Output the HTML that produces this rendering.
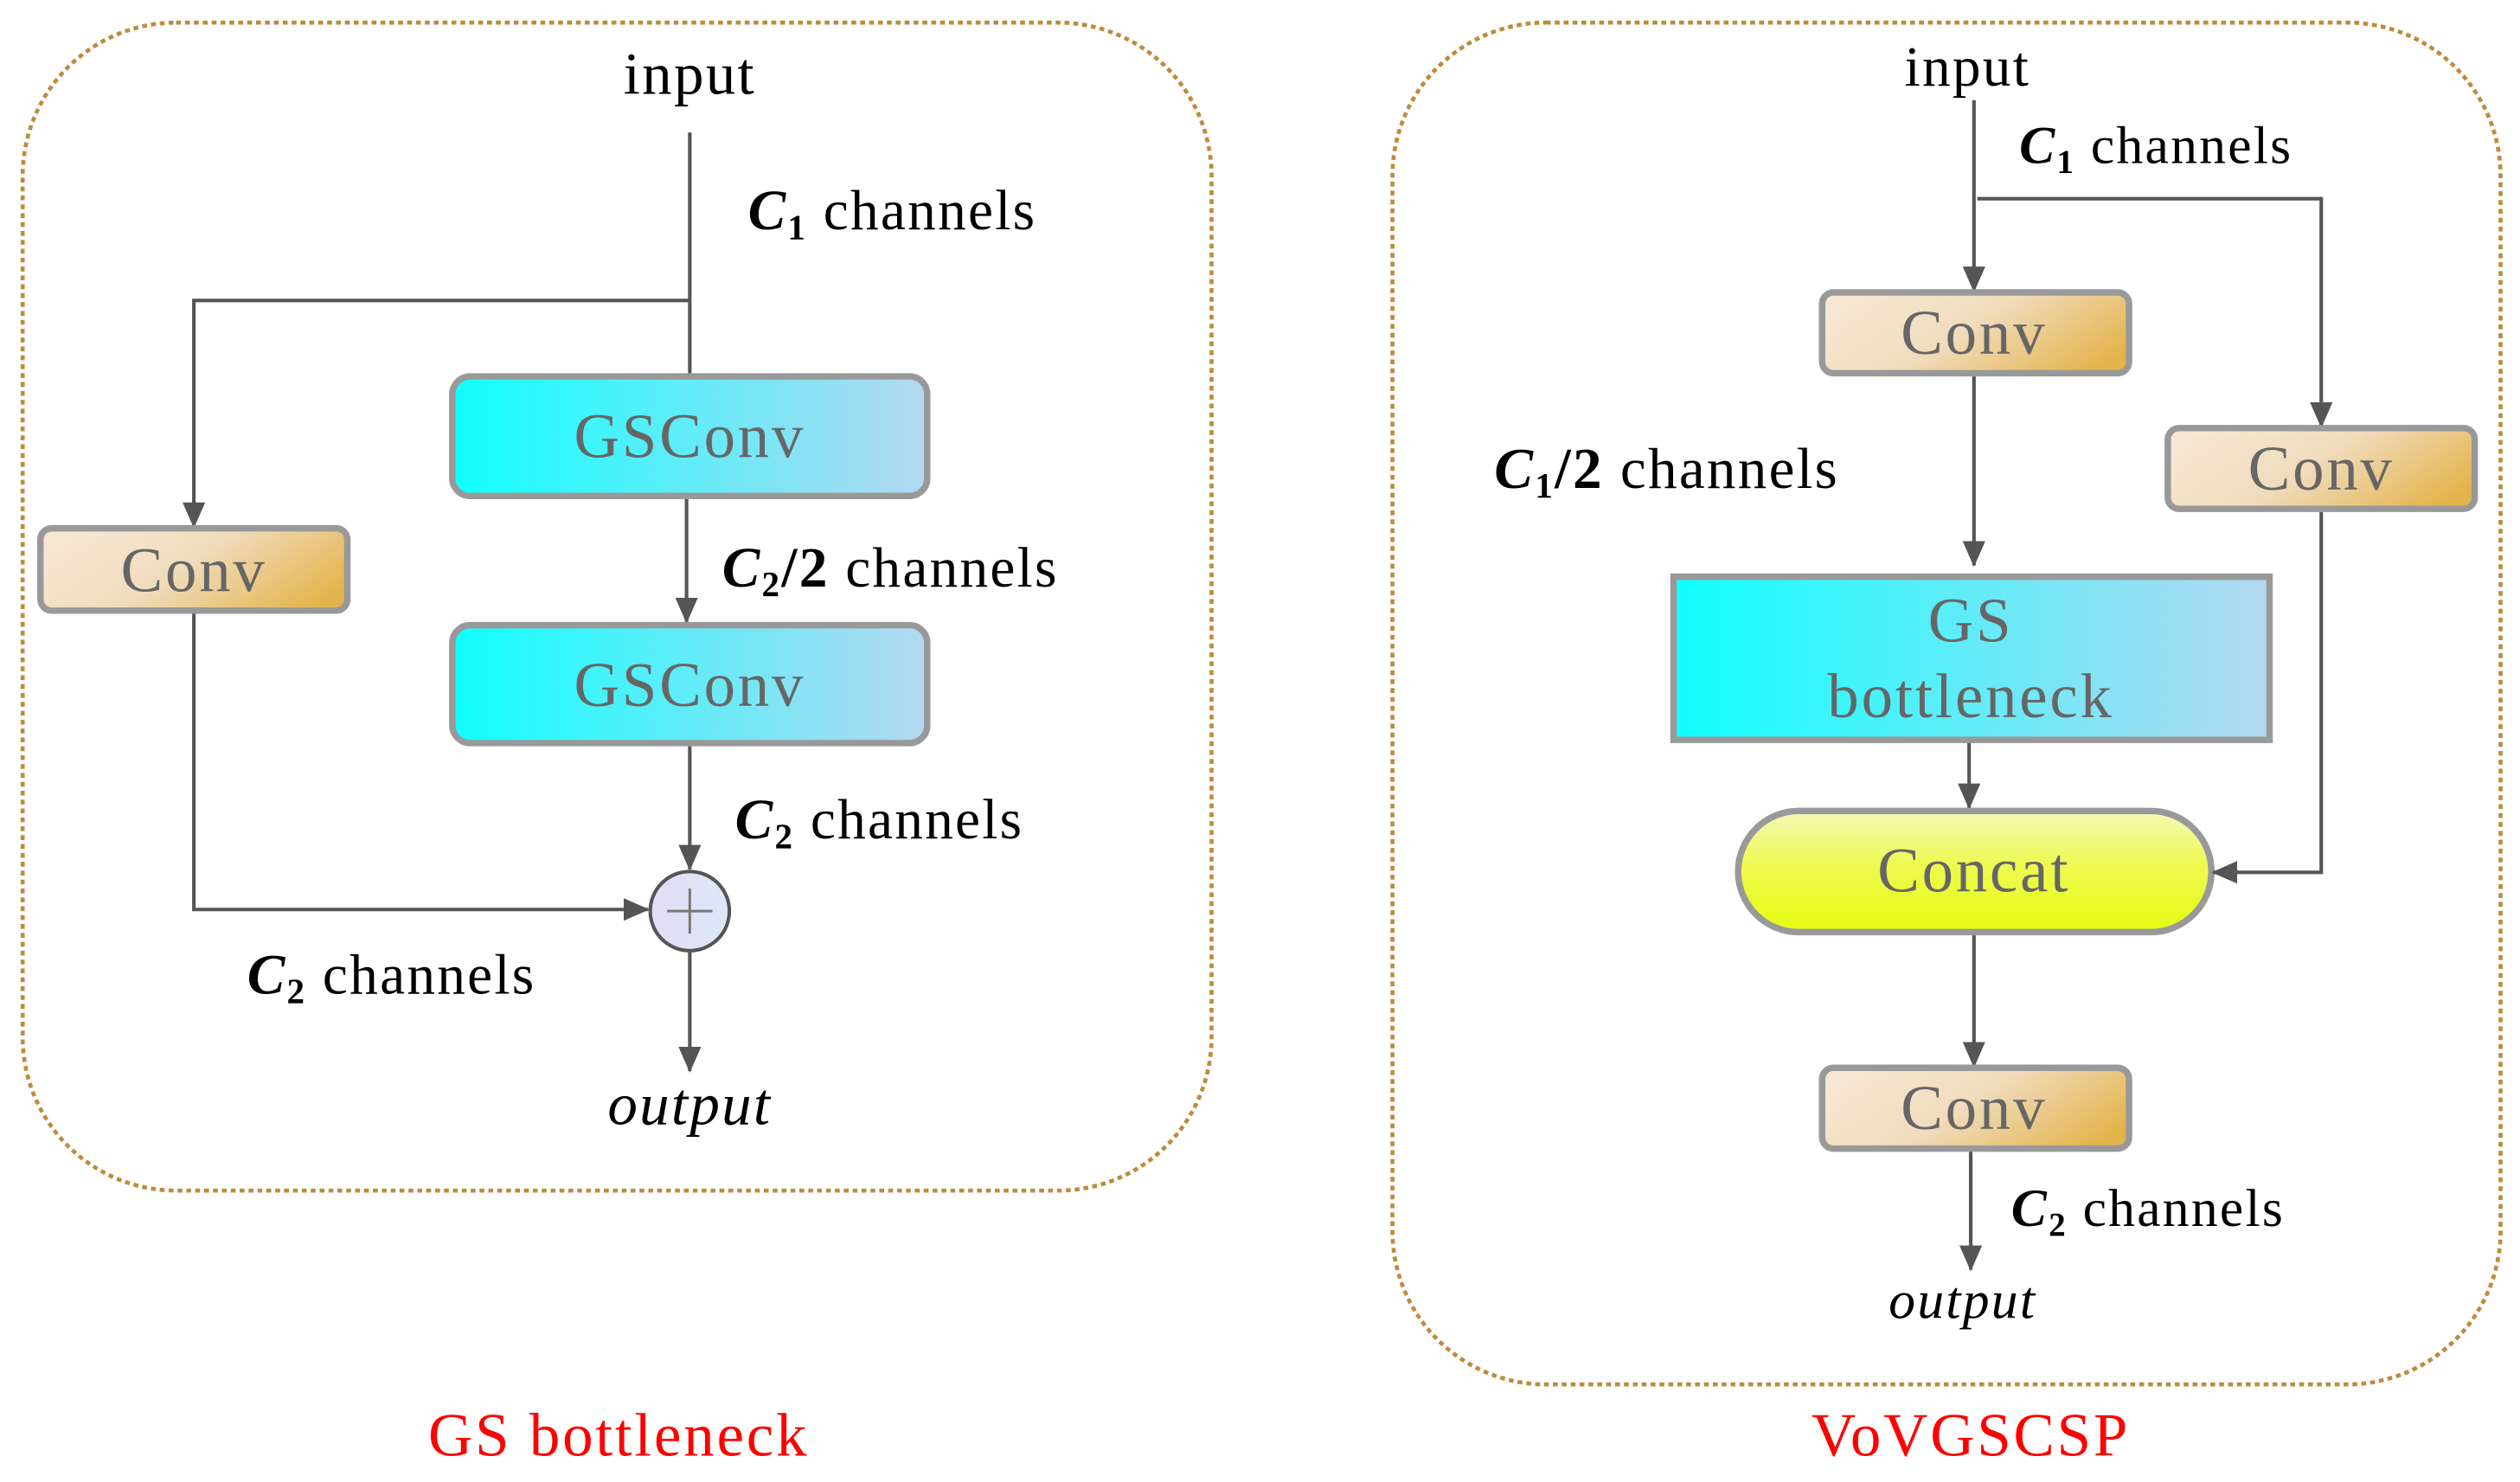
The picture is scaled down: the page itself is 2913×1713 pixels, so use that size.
<!DOCTYPE html>
<html><head><meta charset="utf-8"><style>
html,body{margin:0;padding:0;background:#fff}
svg{display:block}
text{font-family:"Liberation Serif",serif}
.lbl{font-size:35px;fill:#000;letter-spacing:1.2px}
.m{font-style:italic;font-weight:bold}
.s{font-weight:bold}
.bx{font-size:39px;fill:#666;text-anchor:middle;letter-spacing:1.5px}
.ln{stroke:#555;stroke-width:2.2;fill:none}
</style></head><body>
<svg width="2913" height="1713" viewBox="0 0 1560 917.4" xmlns="http://www.w3.org/2000/svg">
<defs>
<marker id="a" viewBox="0 0 16 14" refX="15" refY="7" markerWidth="16" markerHeight="14" orient="auto" markerUnits="userSpaceOnUse">
<path d="M0,0 L16,7 L0,14 z" fill="#555"/>
</marker>
<linearGradient id="cy" x1="0" x2="1"><stop offset="0" stop-color="#10ffff"/><stop offset="1" stop-color="#b4d8f0"/></linearGradient>
<linearGradient id="or" x1="0" y1="0.3" x2="1" y2="0.7"><stop offset="0" stop-color="#f7e8d4"/><stop offset="0.45" stop-color="#f0dcbc"/><stop offset="1" stop-color="#e4b44c"/></linearGradient>
<linearGradient id="ye" x1="0" y1="0" x2="0" y2="1"><stop offset="0" stop-color="#f4f8b8"/><stop offset="0.45" stop-color="#eefa50"/><stop offset="1" stop-color="#e6fc10"/></linearGradient>
<linearGradient id="ci" x1="0" x2="1"><stop offset="0" stop-color="#e4dcf4"/><stop offset="1" stop-color="#dce8f8"/></linearGradient>
</defs>
<rect x="14" y="14" width="736" height="723" rx="95" fill="none" stroke="#c08a3c" stroke-width="2.5" stroke-dasharray="3,2.5"/>
<rect x="862" y="14" width="686" height="843" rx="95" fill="none" stroke="#c08a3c" stroke-width="2.5" stroke-dasharray="3,2.5"/>

<!-- LEFT -->
<text x="427" y="58" class="lbl" text-anchor="middle" style="font-size:37px">input</text>
<path class="ln" d="M427,82 V232"/>
<path class="ln" d="M427,186 H120 V326" marker-end="url(#a)"/>
<rect x="280" y="233" width="294" height="74" rx="11" fill="url(#cy)" stroke="#999" stroke-width="4"/>
<text x="427" y="283" class="bx">GSConv</text>
<path class="ln" d="M425,309 V385" marker-end="url(#a)"/>
<rect x="280" y="387" width="294" height="73" rx="11" fill="url(#cy)" stroke="#999" stroke-width="4"/>
<text x="427" y="437" class="bx">GSConv</text>
<rect x="25" y="327" width="190" height="51" rx="7" fill="url(#or)" stroke="#999" stroke-width="4"/>
<text x="120" y="366" class="bx">Conv</text>
<path class="ln" d="M120,380 V563 H401" marker-end="url(#a)"/>
<path class="ln" d="M427,462 V538" marker-end="url(#a)"/>
<circle cx="427" cy="564" r="24.5" fill="url(#ci)" stroke="#555" stroke-width="2.2"/>
<path d="M413,564 H441 M427,550 V578" stroke="#777" stroke-width="1.6"/>
<path class="ln" d="M427,589 V663" marker-end="url(#a)"/>
<text x="427" y="696" class="lbl" text-anchor="middle" style="font-style:italic;font-size:37px">output</text>
<text x="463" y="142" class="lbl"><tspan class="m">C</tspan><tspan class="s" font-size="22" dy="6">1</tspan><tspan dy="-6"> channels</tspan></text>
<text x="447" y="363" class="lbl"><tspan class="m">C</tspan><tspan class="s" font-size="22" dy="6">2</tspan><tspan class="s" dy="-6">/2</tspan><tspan> channels</tspan></text>
<text x="455" y="519" class="lbl"><tspan class="m">C</tspan><tspan class="s" font-size="22" dy="6">2</tspan><tspan dy="-6"> channels</tspan></text>
<text x="153" y="615" class="lbl"><tspan class="m">C</tspan><tspan class="s" font-size="22" dy="6">2</tspan><tspan dy="-6"> channels</tspan></text>
<text x="383" y="901" text-anchor="middle" style="font-size:38px;fill:#f00;letter-spacing:1.5px">GS bottleneck</text>

<!-- RIGHT -->
<text x="1218" y="53" class="lbl" text-anchor="middle">input</text>
<path class="ln" d="M1222,62 V180" marker-end="url(#a)"/>
<path class="ln" d="M1224,123 H1437 V264" marker-end="url(#a)"/>
<rect x="1128" y="181" width="190" height="50" rx="7" fill="url(#or)" stroke="#999" stroke-width="4"/>
<text x="1222" y="219" class="bx">Conv</text>
<rect x="1342" y="265" width="190" height="50" rx="7" fill="url(#or)" stroke="#999" stroke-width="4"/>
<text x="1437" y="303" class="bx">Conv</text>
<path class="ln" d="M1222,233 V350" marker-end="url(#a)"/>
<rect x="1036" y="357" width="369" height="101" fill="url(#cy)" stroke="#999" stroke-width="4"/>
<text x="1220" y="397" class="bx">GS</text>
<text x="1220" y="444" class="bx">bottleneck</text>
<path class="ln" d="M1219,460 V500" marker-end="url(#a)"/>
<rect x="1076" y="502" width="293" height="75" rx="37.5" fill="url(#ye)" stroke="#999" stroke-width="4"/>
<text x="1222" y="552" class="bx">Concat</text>
<path class="ln" d="M1437,317 V540 H1370" marker-end="url(#a)"/>
<path class="ln" d="M1222,579 V660" marker-end="url(#a)"/>
<rect x="1128" y="661" width="190" height="50" rx="7" fill="url(#or)" stroke="#999" stroke-width="4"/>
<text x="1222" y="699" class="bx">Conv</text>
<path class="ln" d="M1220,713 V786" marker-end="url(#a)"/>
<text x="1215" y="816" class="lbl" text-anchor="middle" style="font-style:italic;font-size:33px">output</text>
<text x="1250" y="101" class="lbl" style="font-size:33px"><tspan class="m">C</tspan><tspan class="s" font-size="21" dy="6">1</tspan><tspan dy="-6"> channels</tspan></text>
<text x="925" y="302" class="lbl" style="font-size:36px"><tspan class="m">C</tspan><tspan class="s" font-size="22" dy="6">1</tspan><tspan class="s" dy="-6">/2</tspan><tspan> channels</tspan></text>
<text x="1245" y="759" class="lbl" style="font-size:33px"><tspan class="m">C</tspan><tspan class="s" font-size="21" dy="6">2</tspan><tspan dy="-6"> channels</tspan></text>
<text x="1220" y="901" text-anchor="middle" style="font-size:38px;fill:#f00;letter-spacing:1.5px">VoVGSCSP</text>
</svg>
</body></html>
